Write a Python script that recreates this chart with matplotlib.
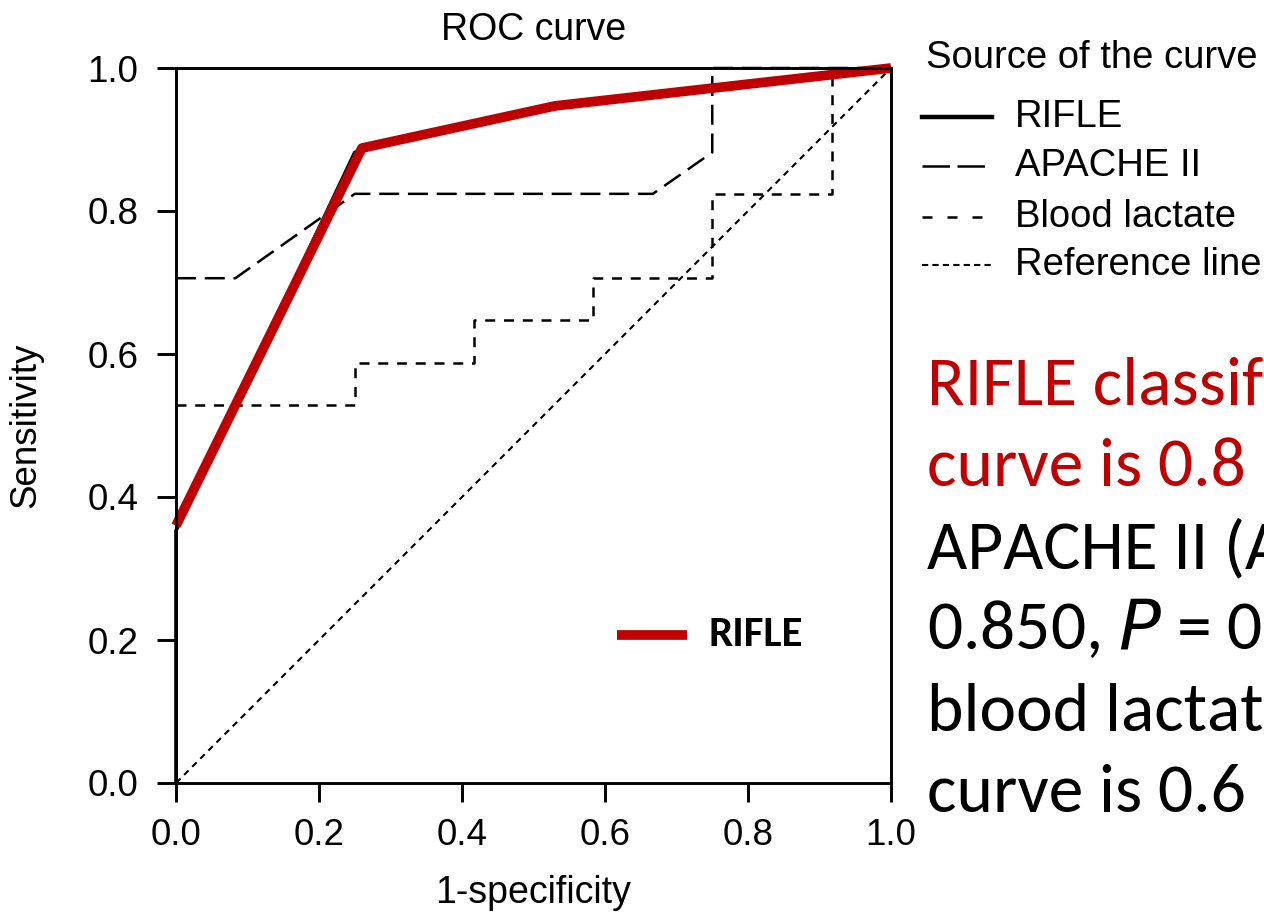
import matplotlib
matplotlib.use("Agg")
import matplotlib.pyplot as plt
from matplotlib.lines import Line2D

plt.rcParams['font.family'] = ['Liberation Sans', 'DejaVu Sans']

# ROC curve points (1-specificity, sensitivity)
rifle_x = [0.0, 0.0, 0.25, 0.5, 1.0]
rifle_y = [0.0, 0.353, 0.882, 0.941, 1.0]

apache_x = [0.0, 0.083, 0.25, 0.667, 0.75, 0.75, 1.0]
apache_y = [0.706, 0.706, 0.824, 0.824, 0.882, 1.0, 1.0]

lactate_x = [0.0, 0.25, 0.25, 0.417, 0.417, 0.583, 0.583, 0.75, 0.75, 0.917, 0.917, 1.0]
lactate_y = [0.529, 0.529, 0.588, 0.588, 0.647, 0.647, 0.706, 0.706, 0.824, 0.824, 1.0, 1.0]

ref_x = [0.0, 1.0]
ref_y = [0.0, 1.0]

# red highlight drawn over the RIFLE curve
highlight_x = [0.0, 0.26, 0.53, 1.0]
highlight_y = [0.36, 0.888, 0.947, 1.0]

ticks = [0.0, 0.2, 0.4, 0.6, 0.8, 1.0]
tick_labels = ["0.0", "0.2", "0.4", "0.6", "0.8", "1.0"]

legend_title = "Source of the curve"
legend_names = ["RIFLE", "APACHE II", "Blood lactate", "Reference line"]

note_lines = ["RIFLE classif", "curve is 0.8", "APACHE II (A",
              "0.850, $\\it{P}$ = 0", "blood lactat", "curve is 0.6"]
note_colors = ["#C00000", "#C00000", "black", "black", "black", "black"]

RED = "#C00000"
W, H = 1264, 915

fig = plt.figure(figsize=(W / 100, H / 100), dpi=100)
ax = fig.add_axes([176 / W, 132 / H, 715 / W, 715 / H])

ax.plot(ref_x, ref_y, color="black", lw=1.5, dashes=(3, 2.5), clip_on=False)
ax.plot(lactate_x, lactate_y, color="black", lw=1.8, dashes=(4, 3.5), clip_on=False)
ax.plot(apache_x, apache_y, color="black", lw=1.8, dashes=(8, 3.5), clip_on=False)
ax.plot(rifle_x, rifle_y, color="black", lw=2.6, solid_capstyle="butt", clip_on=False)
ax.plot(highlight_x, highlight_y, color=RED, lw=7, solid_capstyle="butt", clip_on=False)

ax.set_xlim(0, 1)
ax.set_ylim(0, 1)
ax.set_xticks(ticks)
ax.set_xticklabels(tick_labels)
ax.set_yticks(ticks)
ax.set_yticklabels(tick_labels)
for s in ax.spines.values():
    s.set_linewidth(2.1)
ax.tick_params(axis="both", direction="out", length=14, width=2.1, labelsize=26.5)
ax.tick_params(axis="y", pad=13)
ax.tick_params(axis="x", pad=11)

ax.set_title("ROC curve", fontsize=27, pad=0, y=1 + (68 - 30) / 715, va="center")
ax.set_xlabel("1-specificity", fontsize=27)
ax.xaxis.set_label_coords(0.5, -(875 - 783) / 715)
ax.set_ylabel("Sensitivity", fontsize=26.5)
ax.yaxis.set_label_coords(-(176 - 43) / 715, 0.5)

# legend on the right, laid out by hand
fig.text(926 / W, 1 - 58 / H, legend_title, fontsize=27.5, va="center", ha="left")
handle_styles = [dict(lw=3.2), dict(lw=1.8, dashes=(11, 3)),
                 dict(lw=1.8, dashes=(4, 6)), dict(lw=1.5, dashes=(3, 2))]
row_y = [117, 166, 217, 265]
for name, style, y in zip(legend_names, handle_styles, row_y):
    fig.add_artist(Line2D([922 / W, 992 / W], [1 - y / H, 1 - y / H],
                          color="black", transform=fig.transFigure, **style))
    fig.text(1015 / W, 1 - y / H, name, fontsize=27.5, va="center", ha="left")

# inner RIFLE key
ax.plot([0.617 - 0.0, 0.715], [0.207, 0.207], color=RED, lw=7, solid_capstyle="butt")
ax.text(0.745, 0.207, "RIFLE", fontsize=31, fontweight="bold",
        family=["Carlito", "Lato", "DejaVu Sans"], va="center", ha="left")

# clipped slide text on the right
for i, (txt, col) in enumerate(zip(note_lines, note_colors)):
    fig.text(927 / W, 1 - (405 + i * 81.5) / H, txt, color=col, fontsize=50,
             family=["Carlito", "Lato", "DejaVu Sans"], va="baseline", ha="left")

fig.savefig("out.png", dpi=100)
